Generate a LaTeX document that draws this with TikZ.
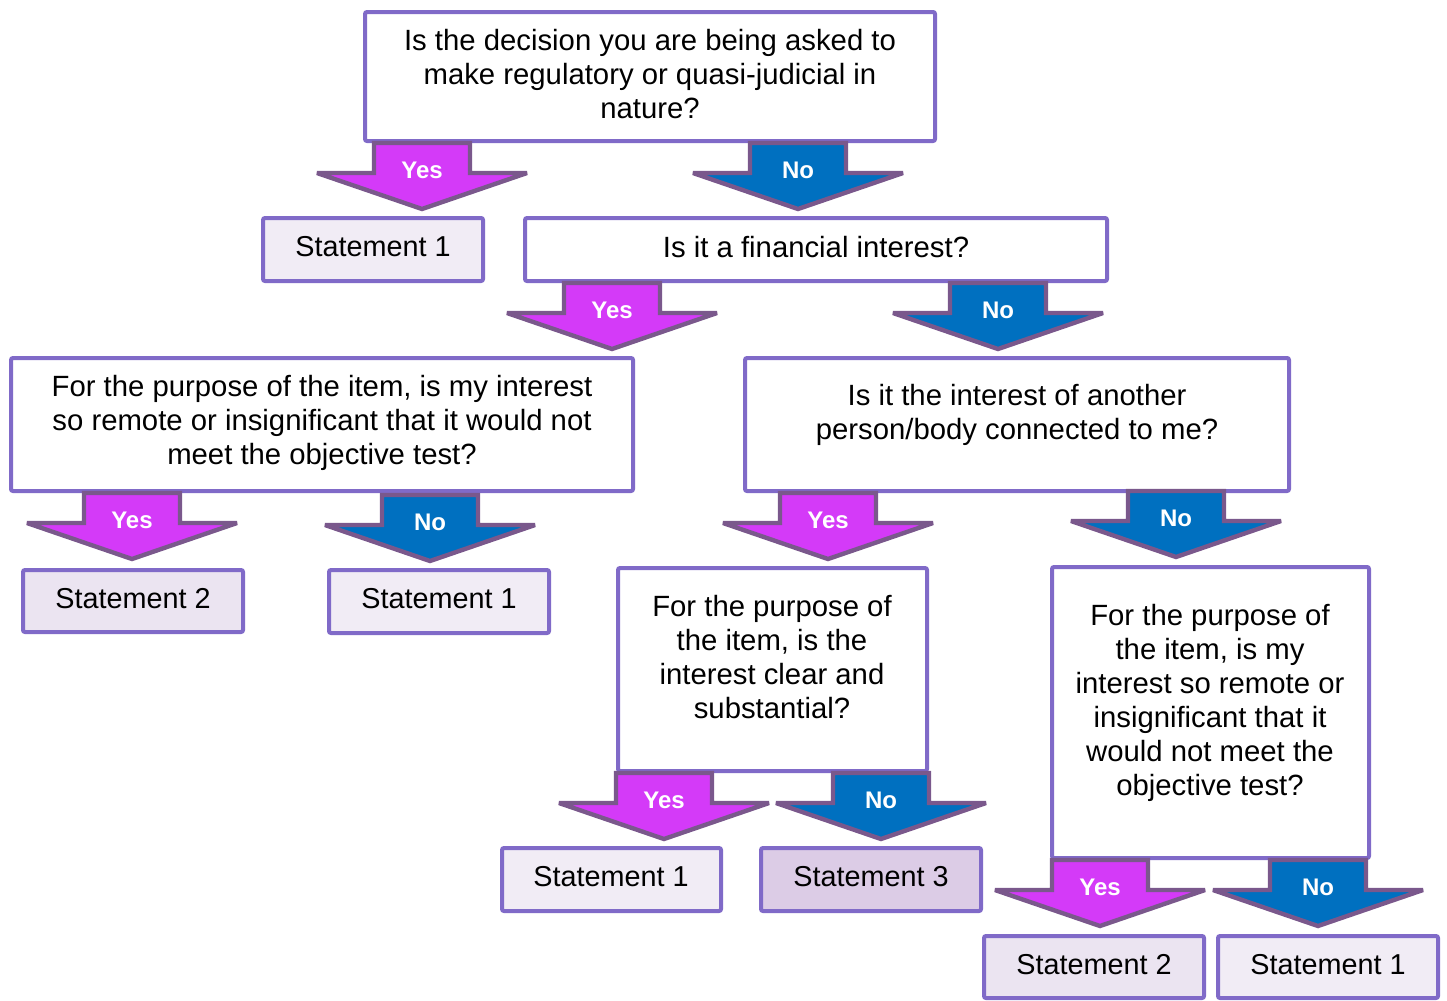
\documentclass[tikz,border=0pt]{standalone}
\usepackage{fontspec}
\setmainfont{Liberation Sans}
\definecolor{boxc}{RGB}{128,106,200}
\definecolor{arrc}{RGB}{122,88,140}
\definecolor{yesc}{RGB}{212,58,248}
\definecolor{noc}{RGB}{0,112,192}
\definecolor{sone}{RGB}{241,236,245}
\definecolor{stwo}{RGB}{235,228,241}
\definecolor{sthree}{RGB}{220,204,230}
\tikzset{
  box/.style={draw=boxc, line width=2pt, rounded corners=1pt},
  txt/.style={align=center, font=\fontsize{14.65}{17}\selectfont, inner sep=0pt},
  stxt/.style={align=center, font=\fontsize{14.4}{17}\selectfont, inner sep=0pt},
  arrowline/.style={draw=arrc, line width=2.2pt, line join=miter, miter limit=2},
  alabel/.style={text=white, font=\fontsize{12}{14}\selectfont\bfseries, inner sep=0pt},
}
\newcommand\bx[6]{% name x1 y1 x2 y2 fill
  \draw[box, fill=#6] (#2+2,#3+2) rectangle (#4-2,#5-2);
  \coordinate (#1) at ({(#2+#4)/2},{(#3+#5)/2});
}
\newcommand\barrow[5]{% name cx top fill label
  \draw[arrowline, fill=#4] (#2-48,#3) -- (#2-48,#3+30) -- (#2-105,#3+30) -- (#2,#3+66) -- (#2+105,#3+30) -- (#2+48,#3+30) -- (#2+48,#3) -- cycle;
  \node[alabel] (#1) at (#2,#3+27) {#5};
}
\begin{document}
\begin{tikzpicture}[x=0.5pt,y=-0.5pt]
\useasboundingbox (0,0) rectangle (1447,1001);
% boxes
\bx{A}{363}{10}{937}{143}{white}
\node[txt] (tA) at (650,74) {Is the decision you are being asked to\\make regulatory or quasi-judicial in\\nature?};
\bx{S1a}{261}{216}{485}{283}{sone}
\node[stxt] (tS1a) at (373,247) {Statement 1};
\bx{B}{523}{216}{1109}{283}{white}
\node[txt] (tB) at (816,247) {Is it a financial interest?};
\bx{C}{9}{356}{635}{493}{white}
\node[txt] (tC) at (322,423) {For the purpose of the item, is my interest\\so remote or insignificant that it would not\\meet the objective test?};
\bx{D}{743}{356}{1291}{493}{white}
\node[txt] (tD) at (1017,414.5) {Is it the interest of another\\person/body connected to me?};
\bx{S2a}{21}{568}{245}{634}{stwo}
\node[stxt] (tS2a) at (133,599) {Statement 2};
\bx{S1b}{327}{568}{551}{635}{sone}
\node[stxt] (tS1b) at (439,599) {Statement 1};
\bx{E}{616}{566}{929}{773}{white}
\node[txt] (tE) at (772,657) {For the purpose of\\the item, is the\\interest clear and\\substantial?};
\bx{F}{1050}{565}{1371}{860}{white}
\node[txt] (tF) at (1210,703) {For the purpose of\\the item, is my\\interest so remote or\\insignificant that it\\would not meet the\\objective test?};
\bx{S1c}{500}{846}{723}{913}{sone}
\node[stxt] (tS1c) at (611,877) {Statement 1};
\bx{S3}{759}{846}{983}{913}{sthree}
\node[stxt] (tS3) at (871,877) {Statement 3};
\bx{S2b}{982}{934}{1206}{1000}{stwo}
\node[stxt] (tS2b) at (1094,965) {Statement 2};
\bx{S1d}{1216}{934}{1440}{1000}{sone}
\node[stxt] (tS1d) at (1328,965) {Statement 1};
% arrows
\barrow{aAy}{422}{143}{yesc}{Yes}
\barrow{aAn}{798}{143}{noc}{No}
\barrow{aBy}{612}{283}{yesc}{Yes}
\barrow{aBn}{998}{283}{noc}{No}
\barrow{aCy}{132}{493}{yesc}{Yes}
\barrow{aCn}{430}{495}{noc}{No}
\barrow{aDy}{828}{493}{yesc}{Yes}
\barrow{aDn}{1176}{491}{noc}{No}
\barrow{aEy}{664}{773}{yesc}{Yes}
\barrow{aEn}{881}{773}{noc}{No}
\barrow{aFy}{1100}{860}{yesc}{Yes}
\barrow{aFn}{1318}{860}{noc}{No}
\end{tikzpicture}
\end{document}
